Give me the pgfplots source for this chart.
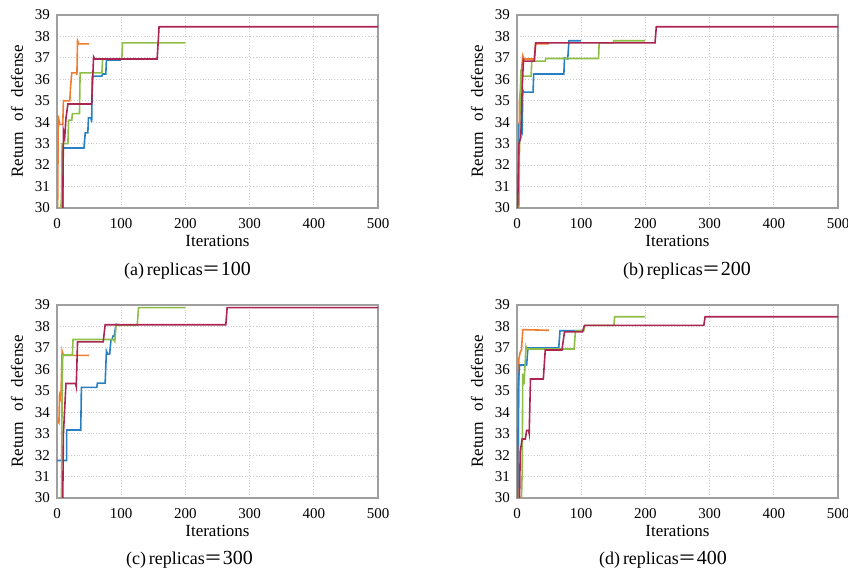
\documentclass[border=0pt]{standalone}
\usepackage{fontspec}
\setmainfont{Liberation Serif}
\newfontfamily\cjk{Noto Sans CJK SC}
\usepackage{pgfplots}
\pgfplotsset{compat=1.18}

\definecolor{cOra}{RGB}{237,125,49}
\definecolor{cBlu}{RGB}{38,128,195}
\definecolor{cGrn}{RGB}{142,190,72}
\definecolor{cRed}{RGB}{172,36,80}

\pgfplotsset{
  panel/.style={
    scale only axis, width=160.5pt, height=96.5pt,
    xmin=0, xmax=500, ymin=30, ymax=39,
    xtick={0,100,...,500}, ytick={30,31,...,39},
    grid=major, grid style={densely dotted, gray!40, line width=0.4pt},
    axis line style={gray!75, line width=0.7pt},
    major tick length=0pt,
    tick label style={font=\fontsize{7.5}{8}\selectfont},
    xticklabel style={yshift=-1.5pt},
    /pgf/number format/assume math mode=true,
    xlabel={Iterations},
    ylabel={Return\hspace{0.6em}of\hspace{0.6em}defense},
    label style={font=\fontsize{8.5}{10}\selectfont},
    xlabel style={at={(axis description cs:0.5,-0.17)}, anchor=center},
    ylabel style={at={(axis description cs:-0.125,0.5)}, anchor=center},
    every axis plot/.append style={line width=0.8pt, mark=none},
  },
  ora/.style={cOra}, blu/.style={cBlu}, grn/.style={cGrn}, red/.style={cRed},
}
\newcommand{\capt}[1]{{\fontsize{9}{10}\selectfont (#1)\,replicas{\cjk ＝}}}

\begin{document}
\begin{tikzpicture}
\useasboundingbox (0,0) rectangle (424pt,-286pt);

% (a) replicas = 100
\begin{axis}[panel, at={(28.5pt,-104pt)}]
\addplot[ora] coordinates {(1,30)(2,34.3)(4,33.9)(9,33.9)(10,35.0)(20,35.0)(21,35.6)(23,36.3)(31,36.3)(31,36.2)(32,37.8)(34,37.65)(50,37.65)};
\addplot[blu] coordinates {(9,30)(9,32.8)(42,32.8)(44,33.5)(48,33.5)(49,34.2)(53,34.2)(54,34.0)(55,36.15)(70,36.15)(71,36.25)(76,36.25)(77,36.9)(100,36.9)};
\addplot[grn] coordinates {(6,30)(7,30.5)(8,33.0)(17,33.0)(18,34.1)(23,34.1)(24,34.4)(35,34.4)(36,36.3)(70,36.3)(71,36.95)(101,36.95)(102,37.7)(200,37.7)};
\addplot[red] coordinates {(9,30)(10,33.6)(12,33.3)(14,34.2)(17,34.85)(54,34.85)(57,37.05)(59,36.95)(156,36.95)(159,38.45)(500,38.45)};
\end{axis}
\node at (93.75pt,-135.5pt) {\capt{a}100};

% (b) replicas = 200
\begin{axis}[panel, at={(258.5pt,-104pt)}]
\addplot[ora] coordinates {(2,30)(4,35.1)(6,35.6)(7,36.4)(9,37.1)(11,36.95)(27,36.95)(29,37.65)(50,37.65)};
\addplot[blu] coordinates {(2,30)(3,33.8)(6,33.6)(8,33.5)(9,35.5)(11,35.4)(25,35.4)(26,36.25)(73,36.25)(74,37.0)(79,36.95)(81,37.8)(100,37.8)};
\addplot[grn] coordinates {(3,30)(4,33.2)(5,35.2)(6,36.3)(8,36.15)(22,36.15)(23,36.85)(44,36.85)(45,36.97)(127,36.97)(128,37.7)(150,37.7)(151,37.8)(200,37.8)};
\addplot[red] coordinates {(1,30)(3,33.0)(6,33.3)(8,35.5)(10,36.9)(11,36.85)(27,36.85)(29,37.7)(215,37.7)(217,38.45)(500,38.45)};
\end{axis}
\node at (343.5pt,-135.5pt) {\capt{b}200};

% (c) replicas = 300
\begin{axis}[panel, at={(28.5pt,-249pt)}]
\addplot[ora] coordinates {(1,33.6)(3,33.5)(4,34.8)(6,34.6)(8,36.85)(10,36.65)(50,36.65)};
\addplot[blu] coordinates {(0,31.75)(15,31.75)(15,33.17)(37,33.17)(38,35.16)(62,35.16)(63,35.36)(75,35.36)(77,36.85)(79,36.71)(82,36.71)(84,37.36)(86,37.4)(87,37.55)(89,37.55)(92,38.1)(100,38.05)};
\addplot[grn] coordinates {(7,30)(8,35.3)(9,36.67)(24,36.67)(25,37.39)(88,37.39)(90,37.3)(92,38.05)(125,38.05)(127,38.88)(200,38.88)};
\addplot[red] coordinates {(9,30)(10,33.0)(14,35.34)(29,35.34)(30,35.2)(32,37.28)(72,37.28)(75,38.08)(263,38.08)(265,38.88)(500,38.88)};
\end{axis}
\node at (94.75pt,-280pt) {\capt{c}300};

% (d) replicas = 400
\begin{axis}[panel, at={(258.5pt,-249pt)}]
\addplot[ora] coordinates {(2,30)(3,36.5)(5,36.8)(7,36.9)(9,37.85)(50,37.82)};
\addplot[blu] coordinates {(1,30)(2,35.1)(3,35.7)(4,36.2)(15,36.2)(17,37.0)(65,37.0)(67,37.8)(100,37.8)};
\addplot[grn] coordinates {(7,30)(8,31.15)(9,35.8)(11,35.3)(14,37.05)(15,36.95)(89,36.95)(91,37.8)(104,37.8)(106,38.05)(151,38.05)(152,38.45)(200,38.45)};
\addplot[red] coordinates {(4,30)(5,32.15)(8,32.75)(13,32.75)(15,33.15)(18,33.15)(19,33.0)(21,35.55)(41,35.55)(44,36.9)(70,36.9)(74,37.75)(102,37.75)(105,38.05)(291,38.05)(293,38.45)(500,38.45)};
\end{axis}
\node at (331.5pt,-280pt) {\capt{d}400};
\end{tikzpicture}
\end{document}
